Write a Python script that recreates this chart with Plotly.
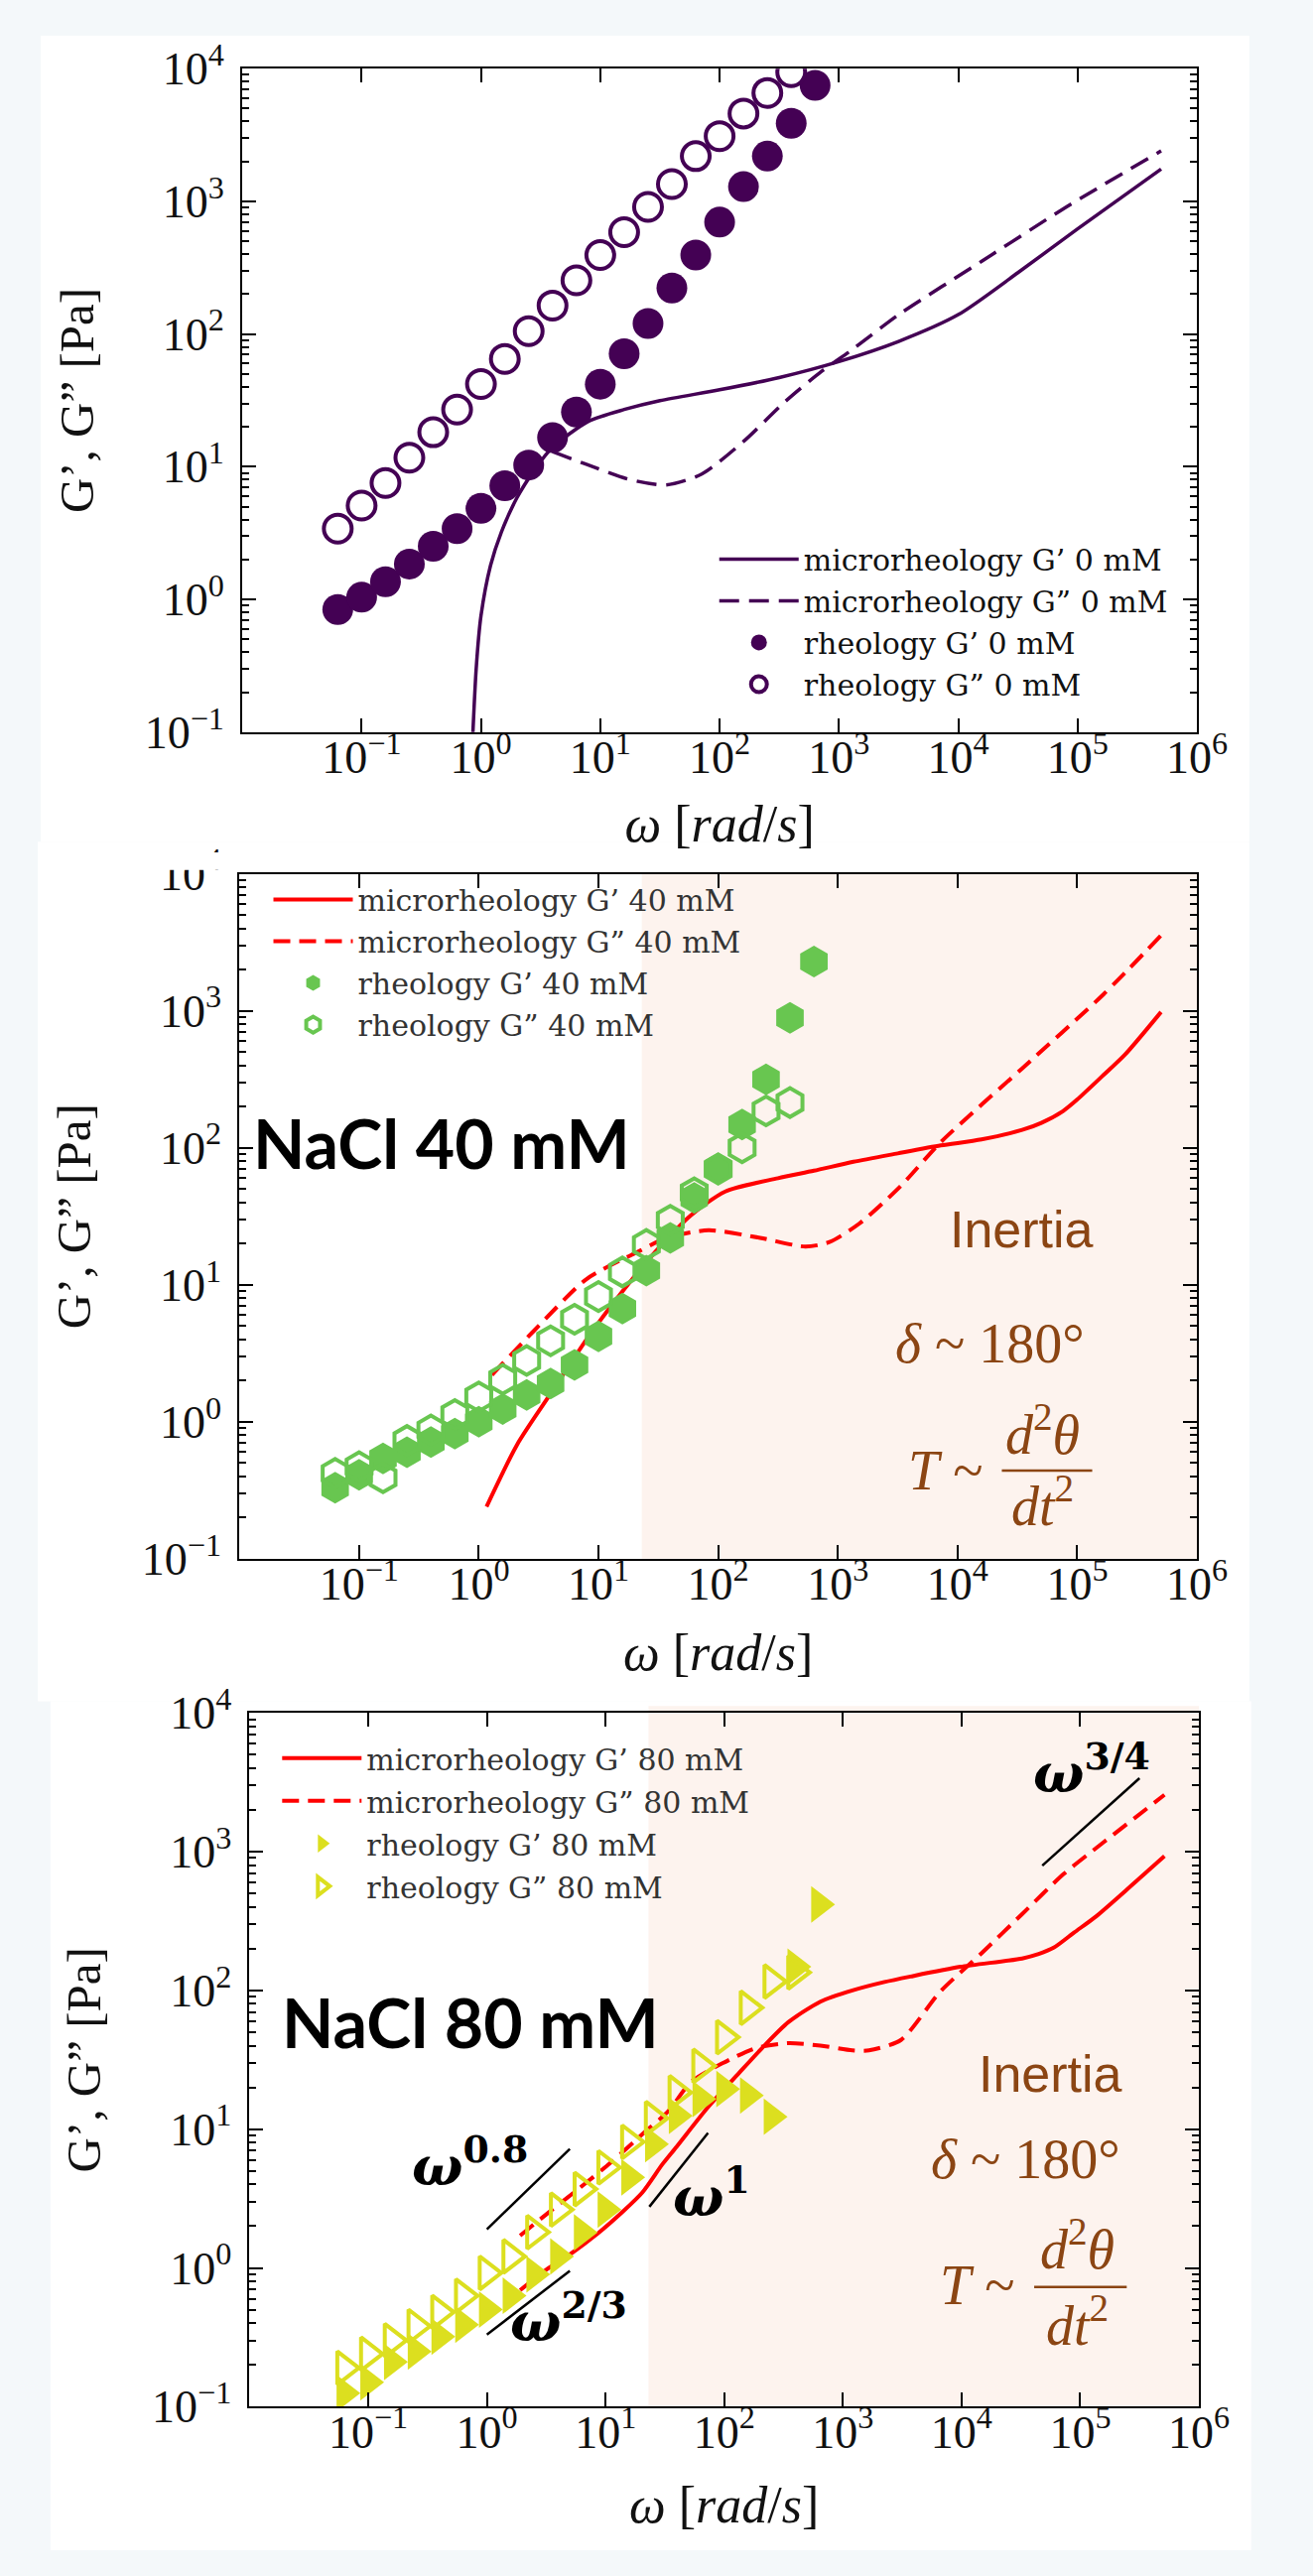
import plotly.graph_objects as go

W, H = 1323, 2596

# ---------------- data ----------------
omega = [0.0631, 0.1, 0.1585, 0.2512, 0.3981, 0.631, 1.0, 1.585, 2.512, 3.981, 6.31,
         10.0, 15.85, 25.12, 39.81, 63.1, 100.0, 158.5, 251.2, 398.1, 631.0]

# NaCl 0 mM
rheo_Gp_0 = [0.84, 1.04, 1.36, 1.85, 2.52, 3.42, 4.86, 7.2, 10.3, 16.6, 25.8,
             41.9, 71, 120, 222, 394, 697, 1290, 2190, 3870, 7480]
rheo_Gpp_0 = [3.42, 5.1, 7.55, 11.7, 18.2, 27, 42, 65, 105, 164, 254,
              394, 585, 907, 1350, 2190, 3100, 4590, 6560, 9400]
micro_w_Gp_0 = [0.841, 0.912, 1.0, 1.202, 1.479, 1.995, 2.818, 3.981, 7.943, 15.85, 31.62,
                100, 316.2, 1000, 3162, 10000, 31623, 100000, 501187]
micro_Gp_0 = [0.07, 0.3, 0.75, 1.8, 3.2, 5.8, 9.5, 14, 22, 27, 31.5,
              38, 47, 62, 88, 140, 290, 620, 1750]
micro_w_Gpp_0 = [3.981, 7.943, 17.78, 35.48, 70.79, 158.5, 354.8, 707.9, 1259, 3162, 15849, 79433, 501187]
micro_Gpp_0 = [13, 10.3, 8.0, 7.3, 8.8, 15.5, 31, 52, 75, 140, 355, 900, 2400]

# NaCl 40 mM
rheo_Gp_40 = [0.33, 0.41, 0.54, 0.60, 0.71, 0.82, 1.0, 1.24, 1.57, 1.9, 2.6,
              4.2, 6.7, 12.7, 22, 43, 71, 148, 316, 890, 2290]
rheo_Gpp_40 = [0.42, 0.47, 0.39, 0.73, 0.87, 1.13, 1.52, 2.04, 2.8, 3.9, 5.6,
               8.2, 12.4, 19.7, 29.6, 47, 70, 100, 186, 214]
micro_w_Gp_40 = [1.161, 2.089, 4.169, 8.128, 15.49, 30.2, 58.88, 114.8, 316.2, 631, 1349,
                 3162, 7244, 15849, 34674, 50119, 75858, 100000, 165959, 251189, 501187]
micro_Gp_40 = [0.24, 0.68, 1.7, 4.1, 8.7, 17.6, 32, 48, 60, 68, 79,
               91, 104, 115, 135, 152, 185, 225, 340, 480, 980]
micro_w_Gpp_40 = [1.288, 2.951, 7.943, 21.88, 37.15, 83.18, 223.9, 537, 851, 1514, 3311,
                  7244, 34674, 165959, 501187]
micro_Gpp_40 = [2.2, 4.7, 11, 17.6, 22, 25, 22, 19, 20.5, 28, 52,
                110, 380, 1320, 3550]

# NaCl 80 mM
rheo_Gp_80 = [0.125, 0.15, 0.21, 0.25, 0.32, 0.39, 0.50, 0.63, 0.90, 1.21, 1.8,
              2.63, 4.5, 7.8, 12.5, 16.5, 19.5, 17.5, 12.3, 148, 417]
rheo_Gpp_80 = [0.19, 0.24, 0.30, 0.38, 0.48, 0.63, 0.92, 1.21, 1.81, 2.63, 3.7,
               5.3, 8.1, 12, 18.4, 28.6, 46, 75, 116, 135]
micro_w_Gp_80 = [1.905, 3.162, 5.129, 8.511, 14.13, 20.42, 30.2, 39.81, 72.44, 134.9, 208.9,
                 346.7, 645.7, 1202, 2239, 3715, 9772, 32359, 44668, 60256, 89125, 134896, 251189, 512861]
micro_Gp_80 = [0.69, 0.97, 1.27, 1.76, 2.57, 3.5, 5.6, 7.5, 14.3, 25.7, 38.5,
               59, 83, 100, 115, 126, 148, 170, 183, 204, 262, 340, 540, 930]
micro_w_Gpp_80 = [1.905, 3.162, 5.888, 10.96, 20.42, 33.88, 52.48, 97.72, 186.2, 346.7, 645.7,
                  1202, 1660, 3090, 6607, 14791, 32359, 72444, 158489, 512861]
micro_Gpp_80 = [1.71, 2.43, 3.7, 5.7, 9.2, 13.5, 21.9, 30, 38.5, 41.7, 40,
                37, 37, 44, 98, 186, 355, 690, 1175, 2570]

# power-law guide segments (80 mM panel)
guide_08_w, guide_08_G = [1.0, 5.0], [1.9, 7.2]
guide_23_w, guide_23_G = [1.0, 5.0], [0.33, 0.95]
guide_1_w, guide_1_G = [23.4, 73.0], [2.76, 9.4]
guide_34_w, guide_34_G = [47900, 316000], [794, 3390]

inertia_start = 23.0  # rad/s, start of inertia-dominated region

x_tickvals = [1e-1, 1e0, 1e1, 1e2, 1e3, 1e4, 1e5, 1e6]
x_ticktext = ['10<sup>−1</sup>', '10<sup>0</sup>', '10<sup>1</sup>', '10<sup>2</sup>',
              '10<sup>3</sup>', '10<sup>4</sup>', '10<sup>5</sup>', '10<sup>6</sup>']
y_tickvals = [1e-1, 1e0, 1e1, 1e2, 1e3, 1e4]
y_ticktext = ['10<sup>−1</sup>', '10<sup>0</sup>', '10<sup>1</sup>', '10<sup>2</sup>',
              '10<sup>3</sup>', '10<sup>4</sup>']

# ---------------- style ----------------
PURPLE = '#440154'
GREEN = '#68c650'
YELLOW = '#dcdf1f'
RED = '#ff0000'
BROWN = '#8b4513'
SHADE = '#fdf3ee'
PAGE = '#f4f8fa'
SERIF = 'Liberation Serif'
LEGSERIF = 'DejaVu Serif'
INK = '#111111'


def px_x(p):
    return p / W


def px_y(p):
    return 1 - p / H


fig = go.Figure()


def add_lines(xa, ya, leg, color, tag, w_Gp, Gp, w_Gpp, Gpp, dash, lw):
    fig.add_trace(go.Scatter(
        x=w_Gp, y=Gp, mode='lines', name=f'microrheology G’ {tag}',
        line=dict(color=color, width=lw, shape='spline', smoothing=0.7),
        xaxis=xa, yaxis=ya, legend=leg, legendgroup=leg + 'a'))
    fig.add_trace(go.Scatter(
        x=w_Gpp, y=Gpp, mode='lines', name=f'microrheology G” {tag}',
        line=dict(color=color, width=lw, dash=dash, shape='spline', smoothing=0.7),
        xaxis=xa, yaxis=ya, legend=leg, legendgroup=leg + 'b'))


# top panel: 0 mM
add_lines('x', 'y', 'legend', PURPLE, '0 mM', micro_w_Gp_0, micro_Gp_0,
          micro_w_Gpp_0, micro_Gpp_0, '20px,10px', 3.5)
fig.add_trace(go.Scatter(x=omega, y=rheo_Gp_0, mode='markers', name='rheology G’ 0 mM',
                         marker=dict(symbol='circle', size=31, color=PURPLE),
                         xaxis='x', yaxis='y', legend='legend', legendgroup='legendc'))
fig.add_trace(go.Scatter(x=omega[:len(rheo_Gpp_0)], y=rheo_Gpp_0, mode='markers', name='rheology G” 0 mM',
                         marker=dict(symbol='circle-open', size=28, color=PURPLE, line=dict(width=4, color=PURPLE)),
                         xaxis='x', yaxis='y', legend='legend', legendgroup='legendd'))

# middle panel: 40 mM
add_lines('x2', 'y2', 'legend2', RED, '40 mM', micro_w_Gp_40, micro_Gp_40,
          micro_w_Gpp_40, micro_Gpp_40, '17px,9px', 4)
fig.add_trace(go.Scatter(x=omega, y=rheo_Gp_40, mode='markers', name='rheology G’ 40 mM',
                         marker=dict(symbol='hexagon', size=32, color=GREEN),
                         xaxis='x2', yaxis='y2', legend='legend2', legendgroup='legend2c'))
fig.add_trace(go.Scatter(x=omega[:len(rheo_Gpp_40)], y=rheo_Gpp_40, mode='markers', name='rheology G” 40 mM',
                         marker=dict(symbol='hexagon-open', size=29, color=GREEN, line=dict(width=4, color=GREEN)),
                         xaxis='x2', yaxis='y2', legend='legend2', legendgroup='legend2d'))

# bottom panel: 80 mM
add_lines('x3', 'y3', 'legend3', RED, '80 mM', micro_w_Gp_80, micro_Gp_80,
          micro_w_Gpp_80, micro_Gpp_80, '17px,9px', 4)
fig.add_trace(go.Scatter(x=omega, y=rheo_Gp_80, mode='markers', name='rheology G’ 80 mM',
                         marker=dict(symbol='triangle-right', size=32, color=YELLOW),
                         xaxis='x3', yaxis='y3', legend='legend3', legendgroup='legend3c'))
fig.add_trace(go.Scatter(x=omega[:len(rheo_Gpp_80)], y=rheo_Gpp_80, mode='markers', name='rheology G” 80 mM',
                         marker=dict(symbol='triangle-right-open', size=29, color=YELLOW, line=dict(width=4, color=YELLOW)),
                         xaxis='x3', yaxis='y3', legend='legend3', legendgroup='legend3d'))

for gw, gG in [(guide_08_w, guide_08_G), (guide_23_w, guide_23_G), (guide_1_w, guide_1_G), (guide_34_w, guide_34_G)]:
    fig.add_trace(go.Scatter(x=gw, y=gG, mode='lines', line=dict(color='black', width=2.5),
                             xaxis='x3', yaxis='y3', showlegend=False, hoverinfo='skip'))

XTITLE = '<i>ω</i> [<i>rad</i>/<i>s</i>]'
YTITLE = 'G’, G” [Pa]'


def xax(domain, anchor, standoff):
    return dict(type='log', range=[-2, 6], domain=domain, anchor=anchor,
                tickmode='array', tickvals=x_tickvals, ticktext=x_ticktext,
                ticks='inside', ticklen=14, tickwidth=2, tickcolor='black',
                showline=True, linecolor='black', linewidth=2, mirror='ticks',
                showgrid=False, zeroline=False, ticklabelstandoff=-16,
                tickfont=dict(family=SERIF, size=46, color=INK),
                title=dict(text=XTITLE, font=dict(family=SERIF, size=52, color=INK), standoff=standoff))


def yax(domain, anchor):
    return dict(type='log', range=[-1, 4], domain=domain, anchor=anchor,
                tickmode='array', tickvals=y_tickvals, ticktext=y_ticktext,
                ticks='inside', ticklen=14, tickwidth=2, tickcolor='black',
                minor=dict(ticks='inside', ticklen=7, tickwidth=1.5, tickcolor='black', dtick='D1', showgrid=False),
                showline=True, linecolor='black', linewidth=2, mirror='ticks',
                showgrid=False, zeroline=False, ticklabelstandoff=7,
                tickfont=dict(family=SERIF, size=46, color=INK),
                title=dict(text=YTITLE, font=dict(family=SERIF, size=49, color=INK), standoff=36))


def legend_cfg(xp, yp, color, gap):
    return dict(x=px_x(xp), y=px_y(yp), xanchor='left', yanchor='top', bgcolor='rgba(0,0,0,0)',
                borderwidth=0, itemwidth=80, tracegroupgap=gap, traceorder='grouped',
                font=dict(family=LEGSERIF, size=30, color=color))


shapes = [
    # white panels on the page background
    dict(type='rect', xref='paper', yref='paper', x0=px_x(42), x1=px_x(1289), y0=px_y(835), y1=px_y(4),
         fillcolor='white', line=dict(width=0), layer='below'),
    dict(type='rect', xref='paper', yref='paper', x0=px_x(39), x1=px_x(1289), y0=px_y(1721), y1=px_y(835),
         fillcolor='white', line=dict(width=0), layer='below'),
    dict(type='rect', xref='paper', yref='paper', x0=px_x(52), x1=px_x(1291), y0=px_y(H), y1=px_y(1721),
         fillcolor='white', line=dict(width=0), layer='below'),
    # inertia regions
    dict(type='rect', xref='x2', yref='y2 domain', x0=inertia_start, x1=1e6, y0=0, y1=1,
         fillcolor=SHADE, line=dict(width=0), layer='below'),
    dict(type='rect', xref='x3', yref='y3 domain', x0=inertia_start, x1=1e6, y0=0, y1=1.01,
         fillcolor=SHADE, line=dict(width=0), layer='below'),
    # fraction bars
    dict(type='line', xref='x2', yref='y2', x0=23442, x1=133352, y0=0.4406, y1=0.4406,
         line=dict(color=BROWN, width=2.5)),
    dict(type='line', xref='x3', yref='y3', x0=40926, x1=246604, y0=0.7295, y1=0.7295,
         line=dict(color=BROWN, width=2.5)),
    # cropped top of the middle panel
    dict(type='rect', xref='paper', yref='paper', x0=px_x(100), x1=px_x(244), y0=px_y(864), y1=px_y(846),
         fillcolor='white', line=dict(width=0), layer='above'),
]


def ann(xr, yr, lx, ly, text, size, color, family, **kw):
    d = dict(xref=xr, yref=yr, x=lx, y=ly, text=text, showarrow=False,
             font=dict(size=size, color=color, family=family), xanchor='center', yanchor='middle')
    d.update(kw)
    return d


BOLD_SANS = 'Lato'
annotations = [
    ann('x2', 'y2', -0.31, 2.04, '<b>NaCl 40 mM</b>', 68, 'black', BOLD_SANS),
    ann('x2', 'y2', 4.54, 1.404, 'Inertia', 52, BROWN, 'Liberation Sans'),
    ann('x2', 'y2', 4.27, 0.569, '<i>δ</i> ~ 180°', 56, BROWN, SERIF),
    ann('x2', 'y2', 3.895, -0.356, '<i>T</i> ~', 56, BROWN, SERIF),
    ann('x2', 'y2', 4.71, -0.065, '<i>d</i><sup>2</sup><i>θ</i>', 56, BROWN, SERIF),
    ann('x2', 'y2', 4.71, -0.582, '<i>dt</i><sup>2</sup>', 56, BROWN, SERIF),

    ann('x3', 'y3', -0.143, 1.776, '<b>NaCl 80 mM</b>', 68, 'black', BOLD_SANS),
    ann('x3', 'y3', 4.747, 1.401, 'Inertia', 52, BROWN, 'Liberation Sans'),
    ann('x3', 'y3', 4.543, 0.786, '<i>δ</i> ~ 180°', 56, BROWN, SERIF),
    ann('x3', 'y3', 4.127, -0.126, '<i>T</i> ~', 56, BROWN, SERIF),
    ann('x3', 'y3', 4.975, 0.163, '<i>d</i><sup>2</sup><i>θ</i>', 56, BROWN, SERIF),
    ann('x3', 'y3', 4.975, -0.385, '<i>dt</i><sup>2</sup>', 56, BROWN, SERIF),
    ann('x3', 'y3', -0.143, 0.755, '<b><i>ω</i></b><sup><b>0.8</b></sup>', 54, 'black', 'DejaVu Serif'),
    ann('x3', 'y3', 0.686, -0.364, '<b><i>ω</i></b><sup><b>2/3</b></sup>', 54, 'black', 'DejaVu Serif'),
    ann('x3', 'y3', 1.89, 0.534, '<b><i>ω</i></b><sup><b>1</b></sup>', 54, 'black', 'DejaVu Serif'),
    ann('x3', 'y3', 5.095, 3.594, '<b><i>ω</i></b><sup><b>3/4</b></sup>', 54, 'black', 'DejaVu Serif'),
]

fig.update_layout(
    width=W, height=H, margin=dict(l=0, r=0, t=0, b=0),
    paper_bgcolor=PAGE, plot_bgcolor='rgba(0,0,0,0)',
    xaxis=xax([px_x(250), px_x(1235)], 'y', 24),
    yaxis=yax([px_y(722), px_y(38)], 'x'),
    xaxis2=xax([px_x(247), px_x(1235)], 'y2', 26),
    yaxis2=yax([px_y(1574), px_y(868)], 'x2'),
    xaxis3=xax([px_x(257.5), px_x(1237)], 'y3', 30),
    yaxis3=yax([px_y(2448), px_y(1733)], 'x3'),
    legend=legend_cfg(737, 517, INK, 0),
    legend2=legend_cfg(277, 868, '#333333', 0),
    legend3=legend_cfg(286, 1753, '#333333', 1),
    shapes=shapes,
    annotations=annotations,
    showlegend=True,
)

fig.write_html('out.html', config={'displayModeBar': False},
               post_script="document.body.style.margin='0';")
